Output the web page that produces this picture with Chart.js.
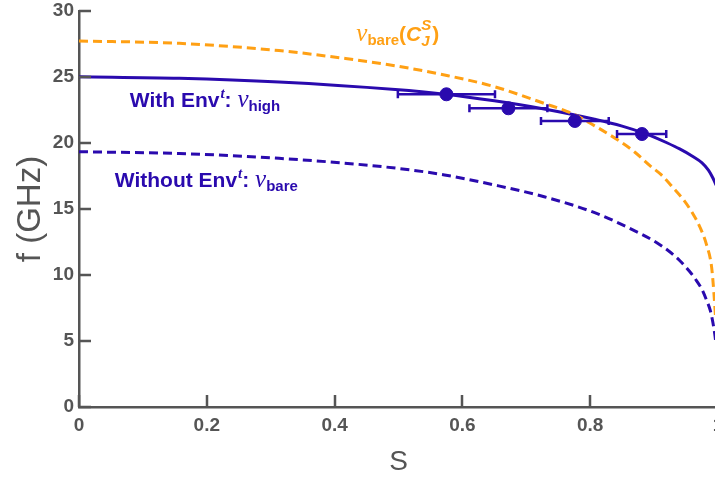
<!DOCTYPE html>
<html><head><meta charset="utf-8">
<script src="https://cdn.jsdelivr.net/npm/chart.js@4.4.1/dist/chart.umd.min.js"></script>
<style>
html,body{margin:0;padding:0;overflow:hidden;background:#fff;width:715px;height:480px}
#wrap{width:730px;height:480px}
</style>
</head><body>
<div id="wrap"><canvas id="c" width="730" height="480"></canvas></div>
<script>
// ---- data ----
const sOrange = [0, 0.157, 0.313, 0.417, 0.495, 0.572, 0.650, 0.728, 0.771, 0.807, 0.844, 0.870, 0.893, 0.911, 0.930, 0.946, 0.960, 0.972, 0.982, 0.990, 0.9935, 0.996];
const fOrange = [27.73, 27.55, 27.0, 26.4, 25.85, 25.15, 24.27, 23.0, 22.25, 21.3, 20.2, 19.3, 18.3, 17.6, 16.6, 15.7, 14.7, 13.6, 12.3, 10.6, 8.7, 6.9];

const sHigh = [0, 0.157, 0.313, 0.495, 0.572, 0.650, 0.728, 0.807, 0.850, 0.885, 0.900, 0.920, 0.940, 0.960, 0.975, 0.985, 0.992, 0.997];
const fHigh = [25.02, 24.9, 24.62, 24.05, 23.7, 23.2, 22.58, 21.8, 21.28, 20.73, 20.45, 20.02, 19.55, 19.0, 18.5, 17.95, 17.35, 16.8];

const sBare = [0, 0.157, 0.313, 0.495, 0.572, 0.650, 0.728, 0.807, 0.859, 0.909, 0.940, 0.955, 0.966, 0.975, 0.982, 0.988, 0.992, 0.995, 0.997];
const fBare = [19.34, 19.2, 18.84, 18.1, 17.58, 16.82, 15.93, 14.72, 13.6, 12.3, 11.1, 10.3, 9.6, 8.9, 8.1, 7.3, 6.4, 5.5, 4.7];

const sMeas   = [0.575, 0.672, 0.776, 0.881];
const fMeas   = [23.69, 22.63, 21.67, 20.68];
const sMeasLo = [0.499, 0.611, 0.723, 0.842];
const sMeasHi = [0.651, 0.733, 0.829, 0.919];

const xTicks = [0, 0.2, 0.4, 0.6, 0.8, 1];
const yTicks = [0, 5, 10, 15, 20, 25, 30];

const xTitle = 'S';
const yTitle = 'f (GHz)';

// ---- styles ----
const BLUE = '#2a0aae', ORANGE = '#ffa014', GRAY = '#555555';
const SANS = '"Liberation Sans", Arial, sans-serif';
const SERIF = '"Liberation Serif", "Times New Roman", serif';

const annotations = [
  { s: 0.0795, f: 22.75, color: BLUE, segs: [
    { t: 'With Env', font: 'bold 21px ' + SANS },
    { t: 't', font: 'italic bold 15px ' + SERIF, dy: -9, dx: 1 },
    { t: ': ', font: 'bold 21px ' + SANS },
    { t: 'ν', font: 'italic 25px ' + SERIF },
    { t: 'high', font: 'bold 15px ' + SANS, dy: 4 }
  ]},
  { s: 0.056, f: 16.69, color: BLUE, segs: [
    { t: 'Without Env', font: 'bold 21px ' + SANS },
    { t: 't', font: 'italic bold 15px ' + SERIF, dy: -9, dx: 1 },
    { t: ': ', font: 'bold 21px ' + SANS },
    { t: 'ν', font: 'italic 25px ' + SERIF },
    { t: 'bare', font: 'bold 15px ' + SANS, dy: 4 }
  ]},
  { s: 0.434, f: 27.7, color: ORANGE, segs: [
    { t: 'ν', font: 'italic 25px ' + SERIF },
    { t: 'bare', font: 'bold 15px ' + SANS, dy: 4 },
    { t: '(', font: 'bold 21px ' + SANS },
    { t: 'C', font: 'italic bold 21px ' + SANS },
    { t: 'S', font: 'italic bold 15px ' + SANS, dy: -11, stack: true },
    { t: 'J', font: 'italic bold 15px ' + SANS, dy: 5 },
    { t: ')', font: 'bold 21px ' + SANS, dx: 1 }
  ]}
];

function zip(xs, ys) { return xs.map((x, i) => ({ x: x, y: ys[i] })); }

function drawRich(ctx, x0, y0, segs, color) {
  let x = x0, pending = 0;
  ctx.fillStyle = color;
  ctx.textBaseline = 'alphabetic';
  ctx.textAlign = 'left';
  for (const s of segs) {
    ctx.font = s.font;
    const w = ctx.measureText(s.t).width;
    const dx = s.dx || 0;
    ctx.fillText(s.t, x + dx, y0 + (s.dy || 0));
    if (s.stack) { pending = Math.max(pending, w); }
    else { x += Math.max(w, pending) + dx; pending = 0; }
  }
}

const decor = {
  id: 'decor',
  afterDatasetsDraw(chart) {
    const { ctx, scales: { x, y } } = chart;
    ctx.save();
    ctx.strokeStyle = BLUE;
    ctx.lineWidth = 2.5;
    for (let i = 0; i < sMeas.length; i++) {
      const py = y.getPixelForValue(fMeas[i]);
      const xl = x.getPixelForValue(sMeasLo[i]);
      const xr = x.getPixelForValue(sMeasHi[i]);
      ctx.beginPath();
      ctx.moveTo(xl, py); ctx.lineTo(xr, py);
      ctx.moveTo(xl, py - 4); ctx.lineTo(xl, py + 4);
      ctx.moveTo(xr, py - 4); ctx.lineTo(xr, py + 4);
      ctx.stroke();
    }
    ctx.restore();
  },
  afterDraw(chart) {
    const { ctx, scales: { x, y } } = chart;
    ctx.save();
    ctx.strokeStyle = GRAY;
    ctx.lineWidth = 2.5;
    ctx.beginPath();
    for (const v of yTicks) {
      const py = Math.round(y.getPixelForValue(v));
      ctx.moveTo(x.left, py); ctx.lineTo(x.left + 12, py);
    }
    for (const v of xTicks) {
      const px = Math.round(x.getPixelForValue(v));
      ctx.moveTo(px, y.bottom); ctx.lineTo(px, y.bottom - 12);
    }
    ctx.stroke();
    for (const a of annotations) {
      drawRich(ctx, x.getPixelForValue(a.s), y.getPixelForValue(a.f), a.segs, a.color);
    }
    ctx.restore();
  }
};

new Chart(document.getElementById('c'), {
  type: 'scatter',
  data: {
    datasets: [
      { label: 'measured', data: zip(sMeas, fMeas), backgroundColor: BLUE, borderColor: BLUE,
        pointRadius: 6.5, pointHoverRadius: 6.5, showLine: false },
      { label: 'nu_bare(C_J^S)', data: zip(sOrange, fOrange), showLine: true, borderColor: ORANGE,
        borderWidth: 3, borderDash: [9, 5], pointRadius: 0, cubicInterpolationMode: 'monotone' },
      { label: 'nu_high', data: zip(sHigh, fHigh), showLine: true, borderColor: BLUE,
        borderWidth: 3, pointRadius: 0, cubicInterpolationMode: 'monotone' },
      { label: 'nu_bare', data: zip(sBare, fBare), showLine: true, borderColor: BLUE,
        borderWidth: 3, borderDash: [9, 5], pointRadius: 0, cubicInterpolationMode: 'monotone' }
    ]
  },
  options: {
    responsive: false,
    animation: false,
    devicePixelRatio: 1,
    layout: { padding: { top: 11, right: 12, left: 0, bottom: 0 } },
    plugins: { legend: { display: false }, tooltip: { enabled: false } },
    scales: {
      x: {
        type: 'linear', min: 0, max: 1,
        afterFit(s) { s.height = 73; s.paddingLeft = 0; s.paddingRight = 0; },
        afterBuildTicks(s) { s.ticks = xTicks.map(v => ({ value: v })); },
        grid: { display: false, drawTicks: false },
        border: { display: true, color: GRAY, width: 2.5 },
        ticks: { color: GRAY, padding: 7, maxRotation: 0, autoSkip: false,
          callback: v => String(v),
          font: { family: SANS, size: 19, weight: 'bold' } },
        title: { display: true, text: xTitle, color: GRAY, padding: { top: 0, bottom: 1 },
          font: { family: SANS, size: 28, weight: 'normal' } }
      },
      y: {
        type: 'linear', min: 0, max: 30,
        afterFit(s) { s.width = 79; s.paddingTop = 0; s.paddingBottom = 0; },
        afterBuildTicks(s) { s.ticks = yTicks.map(v => ({ value: v })); },
        grid: { display: false, drawTicks: false },
        border: { display: true, color: GRAY, width: 2.5 },
        ticks: { color: GRAY, padding: 5, autoSkip: false,
          callback: v => String(v),
          font: { family: SANS, size: 19, weight: 'bold' } },
        title: { display: true, text: yTitle, color: GRAY, padding: { top: 11, bottom: 0 },
          font: { family: SANS, size: 33, weight: 'normal' } }
      }
    }
  },
  plugins: [decor]
});
</script>
</body></html>
